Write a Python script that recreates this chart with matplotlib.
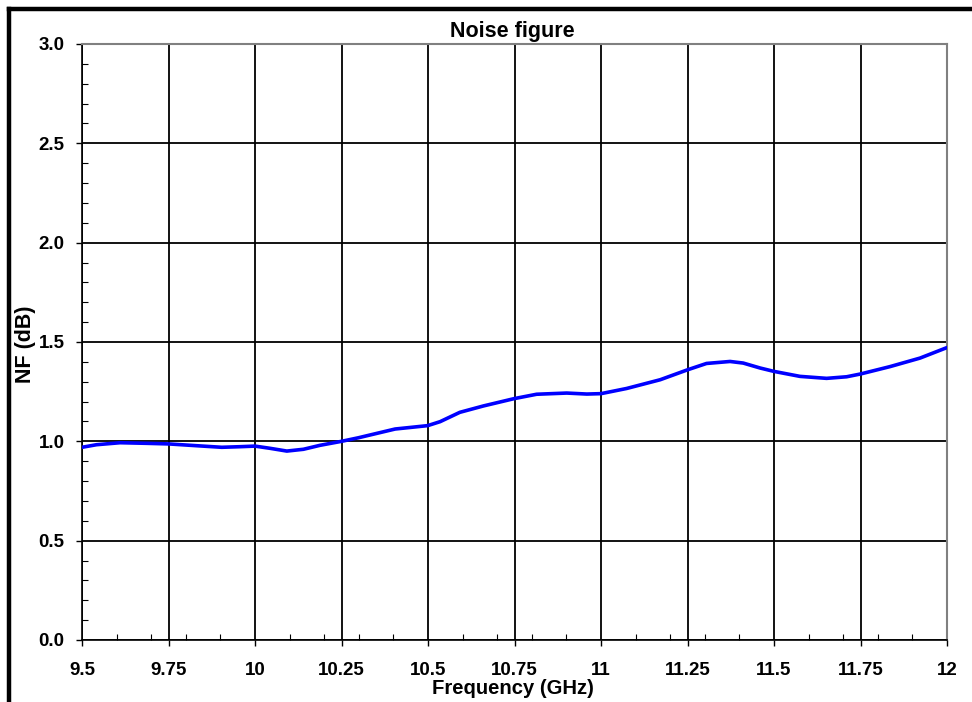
import numpy as np
import matplotlib.pyplot as plt
from matplotlib.lines import Line2D
from matplotlib.ticker import MultipleLocator

# Noise figure measurement (GHz, dB)
freq_ghz = [9.500, 9.542, 9.610, 9.687, 9.750, 9.831, 9.904, 9.957, 10.000,
            10.043, 10.092, 10.140, 10.188, 10.250, 10.299, 10.323, 10.405,
            10.499, 10.535, 10.592, 10.660, 10.749, 10.814, 10.901, 10.959,
            11.000, 11.074, 11.171, 11.250, 11.305, 11.373, 11.411, 11.460,
            11.500, 11.575, 11.652, 11.710, 11.750, 11.835, 11.922, 12.000]
nf_db = [0.970, 0.983, 0.993, 0.990, 0.987, 0.978, 0.970, 0.973, 0.976,
         0.965, 0.951, 0.960, 0.980, 1.000, 1.018, 1.028, 1.062,
         1.079, 1.099, 1.146, 1.178, 1.215, 1.237, 1.243, 1.238,
         1.240, 1.266, 1.310, 1.360, 1.392, 1.402, 1.394, 1.369,
         1.352, 1.327, 1.317, 1.325, 1.339, 1.376, 1.419, 1.472]

x_ticks = [9.5, 9.75, 10, 10.25, 10.5, 10.75, 11, 11.25, 11.5, 11.75, 12]
x_tick_labels = ["9.5", "9.75", "10", "10.25", "10.5", "10.75", "11",
                 "11.25", "11.5", "11.75", "12"]
y_ticks = [0.0, 0.5, 1.0, 1.5, 2.0, 2.5, 3.0]

plt.rcParams["font.family"] = ["Liberation Sans", "DejaVu Sans"]
plt.rcParams["font.weight"] = "bold"

W, H = 972, 702
fig = plt.figure(figsize=(W / 100, H / 100), dpi=100)
ax = fig.add_axes([82 / W, 1 - 640 / H, (947 - 82) / W, (640 - 44) / H])

ax.plot(freq_ghz, nf_db, color="#0000ff", linewidth=2.6, zorder=3,
        solid_joinstyle="round", solid_capstyle="round")

ax.set_xlim(9.5, 12)
ax.set_ylim(0, 3)
ax.set_xticks(x_ticks)
ax.set_xticklabels(x_tick_labels)
ax.set_yticks(y_ticks)
ax.set_yticklabels([f"{v:.1f}" for v in y_ticks])
ax.xaxis.set_minor_locator(MultipleLocator(0.1))
ax.yaxis.set_minor_locator(MultipleLocator(0.1))

ax.grid(which="major", color="black", linewidth=1.3)
ax.tick_params(which="major", direction="out", length=4.5, width=1,
               labelsize=13.5, colors="black")
ax.tick_params(axis="x", which="major", pad=11)
ax.tick_params(axis="y", which="major", pad=8)
ax.tick_params(which="minor", direction="in", length=4, width=0.8)
for lab in ax.get_xticklabels() + ax.get_yticklabels():
    lab.set_fontweight("bold")

for side in ("top", "right"):
    ax.spines[side].set_color("#808080")
    ax.spines[side].set_linewidth(1.5)
for side in ("left", "bottom"):
    ax.spines[side].set_color("black")
    ax.spines[side].set_linewidth(1.2)

fig.text(512 / W, 1 - 31 / H, "Noise figure", ha="center", va="center",
         fontsize=15.5, fontweight="bold")
fig.text(513 / W, 1 - 694 / H, "Frequency (GHz)", ha="center",
         va="baseline", fontsize=14.6, fontweight="bold")
fig.text(25 / W, 1 - 344 / H, "NF (dB)", ha="center", va="center",
         rotation=90, fontsize=15.5, fontweight="bold")

# heavy frame along the left and top edges
fig.add_artist(Line2D([9 / W, 9 / W], [0, 1 - 9 / H], color="black",
                      linewidth=3.2, transform=fig.transFigure))
fig.add_artist(Line2D([9 / W, 1], [1 - 9 / H, 1 - 9 / H], color="black",
                      linewidth=3.2, transform=fig.transFigure))

fig.savefig("out.png", dpi=100)
